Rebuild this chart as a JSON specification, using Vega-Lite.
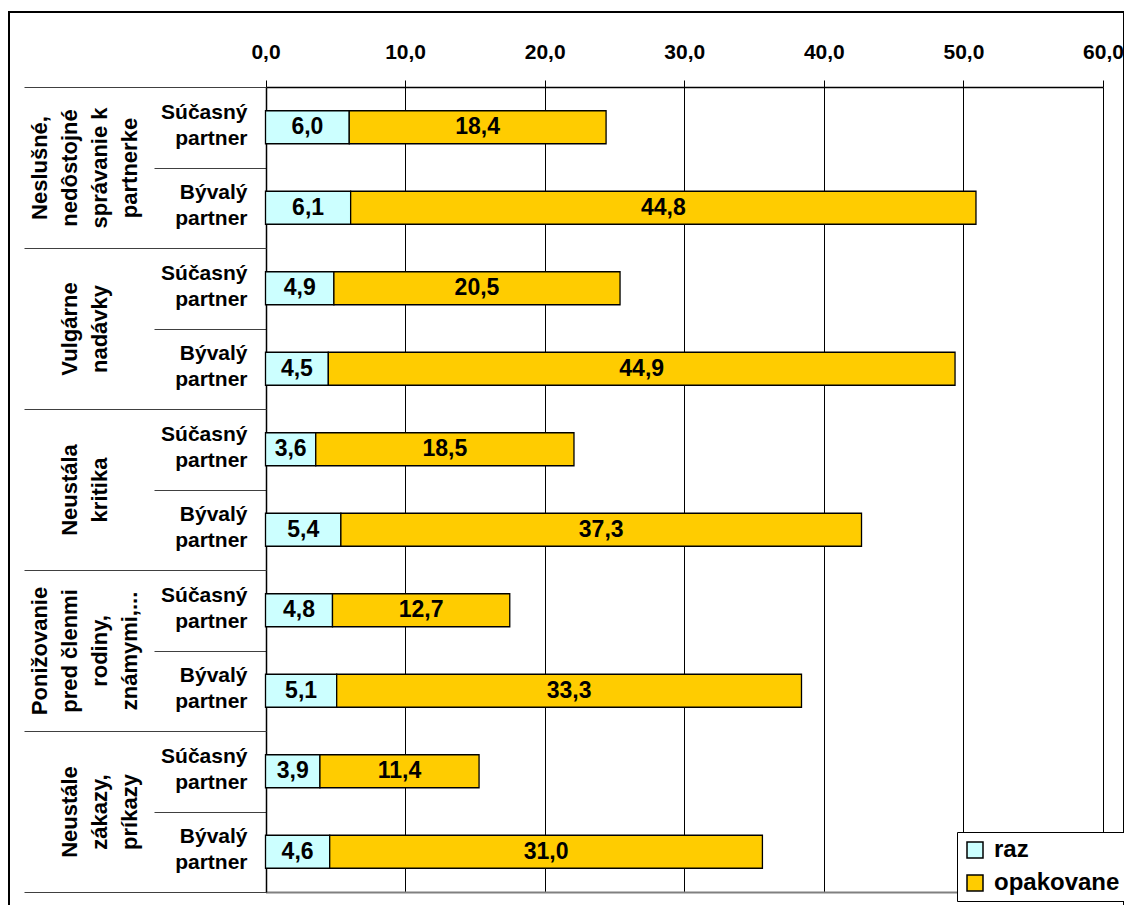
{
  "$schema": "https://vega.github.io/schema/vega-lite/v6.json",
  "autosize": {"type": "none"},
  "padding": {"left": 9, "top": 12, "right": 0, "bottom": 0},
  "width": 1115,
  "height": 900,
  "background": "white",
  "config": {
    "font": "Liberation Sans",
    "locale": {"number": {"decimal": ",", "thousands": " ", "grouping": [3], "currency": ["", " €"]}},
    "view": {"stroke": "black", "strokeWidth": 2},
    "axis": {"labelFont": "Liberation Sans", "labelFontWeight": "bold", "labelColor": "black", "labelOverlap": false}
  },
  "data": {
    "values": [
      {"skupina": "Neslušné,\nnedôstojné\nsprávanie k\npartnerke", "partner": "Súčasný partner", "typ": "raz", "hodnota": 6.0},
      {"skupina": "Neslušné,\nnedôstojné\nsprávanie k\npartnerke", "partner": "Súčasný partner", "typ": "opakovane", "hodnota": 18.4},
      {"skupina": "Neslušné,\nnedôstojné\nsprávanie k\npartnerke", "partner": "Bývalý partner", "typ": "raz", "hodnota": 6.1},
      {"skupina": "Neslušné,\nnedôstojné\nsprávanie k\npartnerke", "partner": "Bývalý partner", "typ": "opakovane", "hodnota": 44.8},
      {"skupina": "Vulgárne\nnadávky", "partner": "Súčasný partner", "typ": "raz", "hodnota": 4.9},
      {"skupina": "Vulgárne\nnadávky", "partner": "Súčasný partner", "typ": "opakovane", "hodnota": 20.5},
      {"skupina": "Vulgárne\nnadávky", "partner": "Bývalý partner", "typ": "raz", "hodnota": 4.5},
      {"skupina": "Vulgárne\nnadávky", "partner": "Bývalý partner", "typ": "opakovane", "hodnota": 44.9},
      {"skupina": "Neustála\nkritika", "partner": "Súčasný partner", "typ": "raz", "hodnota": 3.6},
      {"skupina": "Neustála\nkritika", "partner": "Súčasný partner", "typ": "opakovane", "hodnota": 18.5},
      {"skupina": "Neustála\nkritika", "partner": "Bývalý partner", "typ": "raz", "hodnota": 5.4},
      {"skupina": "Neustála\nkritika", "partner": "Bývalý partner", "typ": "opakovane", "hodnota": 37.3},
      {"skupina": "Ponižovanie\npred členmi\nrodiny,\nznámymi,...", "partner": "Súčasný partner", "typ": "raz", "hodnota": 4.8},
      {"skupina": "Ponižovanie\npred členmi\nrodiny,\nznámymi,...", "partner": "Súčasný partner", "typ": "opakovane", "hodnota": 12.7},
      {"skupina": "Ponižovanie\npred členmi\nrodiny,\nznámymi,...", "partner": "Bývalý partner", "typ": "raz", "hodnota": 5.1},
      {"skupina": "Ponižovanie\npred členmi\nrodiny,\nznámymi,...", "partner": "Bývalý partner", "typ": "opakovane", "hodnota": 33.3},
      {"skupina": "Neustále\nzákazy,\npríkazy", "partner": "Súčasný partner", "typ": "raz", "hodnota": 3.9},
      {"skupina": "Neustále\nzákazy,\npríkazy", "partner": "Súčasný partner", "typ": "opakovane", "hodnota": 11.4},
      {"skupina": "Neustále\nzákazy,\npríkazy", "partner": "Bývalý partner", "typ": "raz", "hodnota": 4.6},
      {"skupina": "Neustále\nzákazy,\npríkazy", "partner": "Bývalý partner", "typ": "opakovane", "hodnota": 31.0}
    ]
  },
  "transform": [
    {"calculate": "datum.skupina + '|' + datum.partner", "as": "riadok"},
    {"stack": "hodnota", "groupby": ["riadok"], "sort": [{"field": "typ", "order": "descending"}], "as": ["x0", "x1"]},
    {"calculate": "(datum.x0 + datum.x1) / 2", "as": "stred"}
  ],
  "resolve": {"axis": {"x": "independent", "y": "independent"}},
  "layer": [
    {
      "mark": {"type": "bar", "stroke": "black", "strokeWidth": 1.3, "height": 33},
      "encoding": {
        "y": {
          "field": "riadok", "type": "nominal", "sort": null, "title": null,
          "scale": {"range": [75, 880], "paddingInner": 0, "paddingOuter": 0},
          "axis": {
            "orient": "left", "offset": -257,
            "labelExpr": "isString(datum.value) ? split(split(datum.value, '|')[1], ' ') : ''",
            "labelFontSize": 21, "labelLineHeight": 26, "labelAlign": "right", "labelBaseline": "middle",
            "labelPadding": -93, "labelLimit": 0, "labelOffset": -15,
            "tickBand": "extent", "tickSize": 112, "tickColor": "#404040", "tickWidth": 1,
            "domainColor": "black", "domainWidth": 1.5, "grid": false
          }
        },
        "x": {
          "field": "x0", "type": "quantitative", "title": null,
          "scale": {"domain": [0, 60], "range": [256.5, 1094], "nice": false},
          "axis": {
            "orient": "top", "offset": -75,
            "values": [0, 10, 20, 30, 40, 50, 60], "format": ".1f",
            "labelFontSize": 21, "labelPadding": 18, "labelFlush": false,
            "tickSize": 7, "tickColor": "black", "tickWidth": 1,
            "domainColor": "black", "domainWidth": 1.5,
            "grid": true, "gridColor": "black", "gridWidth": 1, "gridOpacity": 1
          }
        },
        "x2": {"field": "x1"},
        "color": {
          "field": "typ", "type": "nominal",
          "scale": {"domain": ["raz", "opakovane"], "range": ["#CCFFFF", "#FFCC00"]},
          "legend": {
            "orient": "none", "legendX": 948, "legendY": 820, "title": null,
            "fillColor": "white", "strokeColor": "black", "padding": 6,
            "symbolType": "square", "symbolSize": 256, "symbolStrokeColor": "black", "symbolStrokeWidth": 1.5, "symbolOpacity": 1,
            "labelFont": "Liberation Sans", "labelFontSize": 24, "labelFontWeight": "bold", "labelColor": "black",
            "labelOffset": 7, "rowPadding": 9, "labelExpr": "datum.label + '     '", "labelLimit": 0
          }
        }
      }
    },
    {
      "mark": {"type": "text", "font": "Liberation Sans", "fontWeight": "bold", "fontSize": 23, "color": "black", "align": "center", "baseline": "middle"},
      "encoding": {
        "y": {
          "field": "riadok", "type": "nominal", "sort": null, "title": null,
          "axis": {
            "orient": "left", "offset": -257, "domain": false,
            "labelExpr": "isString(datum.value) && indexof(datum.value, 'Bývalý') >= 0 ? split(slice('\\n\\n\\n', 0, 4 - length(split(split(datum.value, '|')[0], '\\n'))) + split(datum.value, '|')[0], '\\n') : ''",
            "labelAngle": 270, "labelAlign": "center", "labelBaseline": "bottom",
            "labelFontSize": 22, "labelLineHeight": 30, "labelOffset": -40.25,
            "labelPadding": -27, "labelLimit": 0,
            "tickBand": "extent", "tickSize": 242, "tickColor": "#404040", "tickWidth": 1,
            "tickOpacity": {"condition": {"test": "!isString(datum.value) || indexof(datum.value, 'Bývalý') >= 0", "value": 1}, "value": 0},
            "grid": false
          }
        },
        "x": {
          "field": "stred", "type": "quantitative", "title": null,
          "axis": {
            "orient": "bottom", "offset": -20, "labels": false, "ticks": false, "grid": false,
            "domainColor": "#808080", "domainWidth": 2
          }
        },
        "text": {"field": "hodnota", "type": "quantitative", "format": ".1f"}
      }
    }
  ]
}
